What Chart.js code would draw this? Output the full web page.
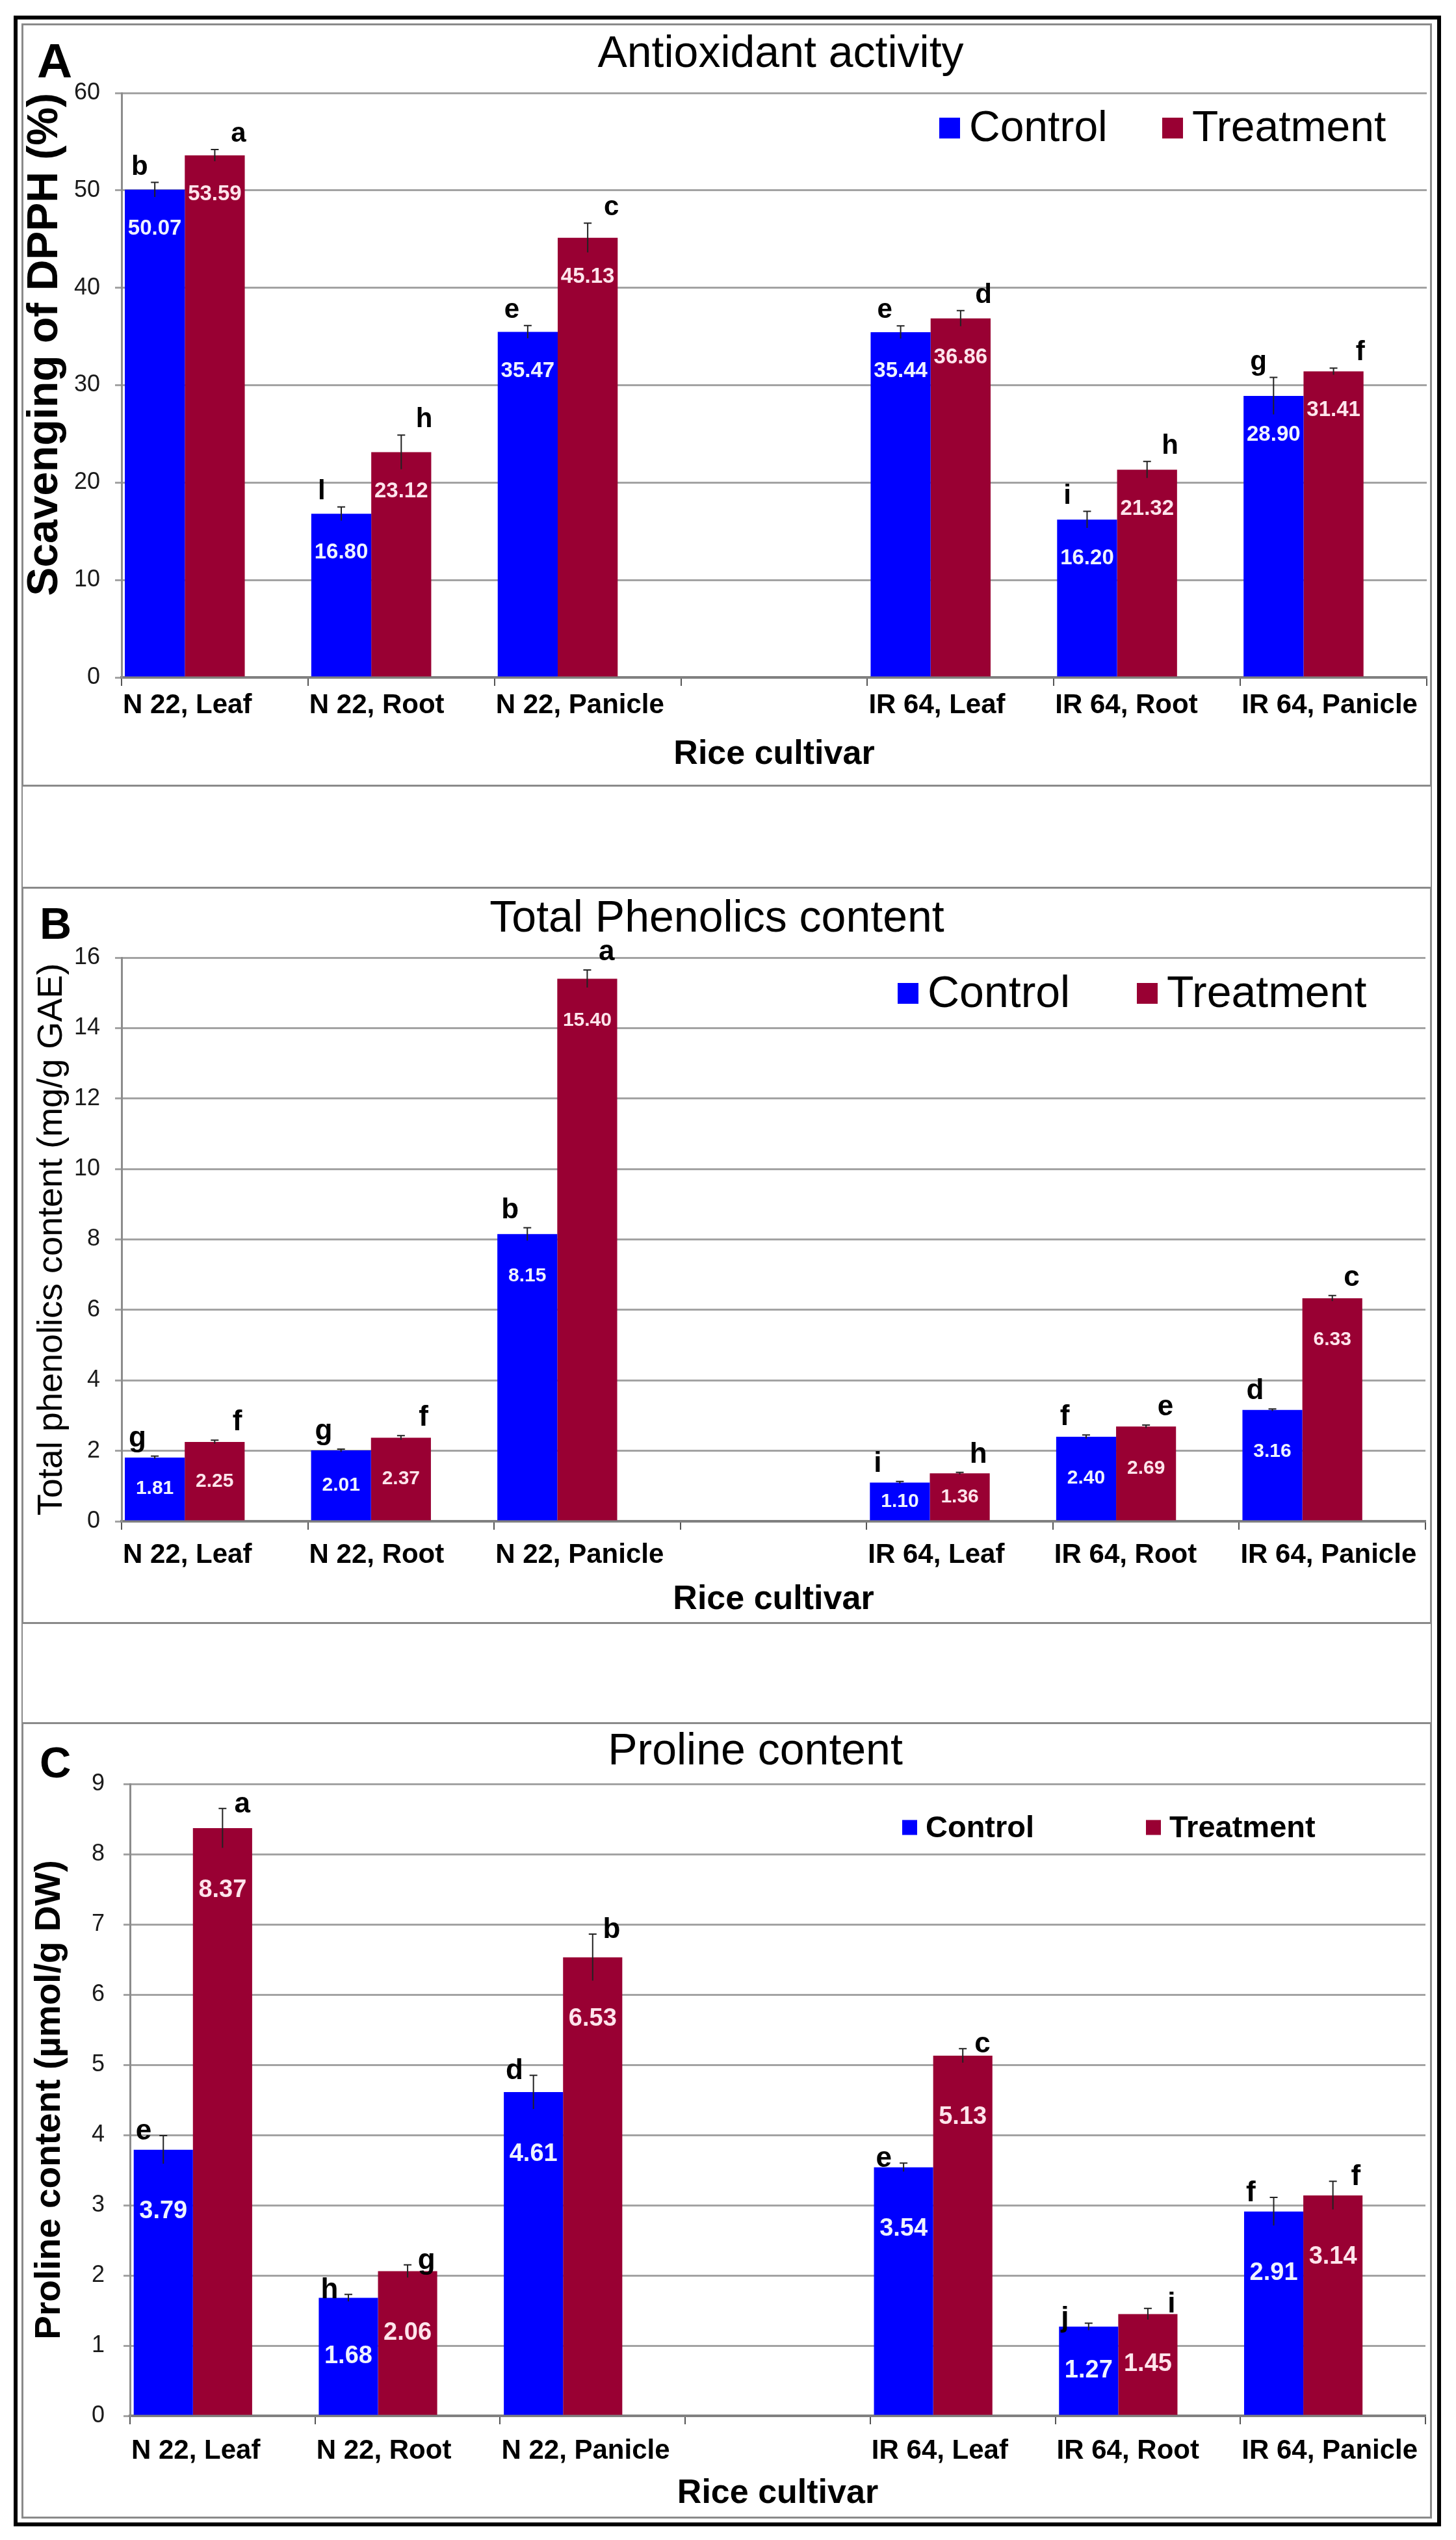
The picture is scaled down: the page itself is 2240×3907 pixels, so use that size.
<!DOCTYPE html>
<html>
<head>
<meta charset="utf-8">
<title>Antioxidant activity, phenolics and proline in rice</title>
<script src="https://cdn.jsdelivr.net/npm/chart.js@4.4.1/dist/chart.umd.min.js"></script>
<style>
  html, body { margin: 0; padding: 0; background: #fff; }
  body { width: 2240px; height: 3907px; position: relative; overflow: hidden; }
  #frame { position: absolute; left: 21px; top: 24px; width: 2196px; height: 3862px; border: 6px solid #000; box-sizing: border-box; }
  #inner { position: absolute; left: 33px; top: 36px; width: 2170px; height: 3838px; border: 2px solid #8a8a8a; box-sizing: border-box; }
  .panel { position: absolute; left: 33px; width: 2170px; border: 3px solid #8a8a8a; box-sizing: border-box; background: #fff; }
  .panel canvas { display: block; }
</style>
</head>
<body>
<div id="frame"></div>
<div id="inner"></div>
<div class="panel" style="top:36px;height:1174px"><canvas id="chartA" width="2164" height="1168"></canvas></div>
<div class="panel" style="top:1364px;height:1134px"><canvas id="chartB" width="2164" height="1128"></canvas></div>
<div class="panel" style="top:2649px;height:1225px"><canvas id="chartC" width="2164" height="1219"></canvas></div>

<script>
// categories (the empty slot is the gap between the two cultivars)
const categories = ['N 22, Leaf', 'N 22, Root', 'N 22, Panicle', '', 'IR 64, Leaf', 'IR 64, Root', 'IR 64, Panicle'];
const seriesNames = ['Control', 'Treatment'];

// A - Antioxidant activity, scavenging of DPPH (%)
const dpphControl = [50.07, 16.80, 35.47, null, 35.44, 16.20, 28.90];
const dpphTreatment = [53.59, 23.12, 45.13, null, 36.86, 21.32, 31.41];
const dpphErrControl = [0.75, 0.7, 0.65, null, 0.65, 0.85, 1.9];
const dpphErrTreatment = [0.6, 1.75, 1.5, null, 0.8, 0.85, 0.35];
const dpphLetControl = ['b', 'l', 'e', '', 'e', 'i', 'g'];
const dpphLetTreatment = ['a', 'h', 'c', '', 'd', 'h', 'f'];
const dpphTicks = [0, 10, 20, 30, 40, 50, 60];

// B - Total phenolics content (mg/g GAE)
const phenControl = [1.81, 2.01, 8.15, null, 1.10, 2.40, 3.16];
const phenTreatment = [2.25, 2.37, 15.40, null, 1.36, 2.69, 6.33];
const phenErrControl = [0.04, 0.04, 0.18, null, 0.03, 0.05, 0.03];
const phenErrTreatment = [0.05, 0.06, 0.25, null, 0.03, 0.04, 0.08];
const phenLetControl = ['g', 'g', 'b', '', 'i', 'f', 'd'];
const phenLetTreatment = ['f', 'f', 'a', '', 'h', 'e', 'c'];
const phenTicks = [0, 2, 4, 6, 8, 10, 12, 14, 16];

// C - Proline content (umol/g DW)
const proControl = [3.79, 1.68, 4.61, null, 3.54, 1.27, 2.91];
const proTreatment = [8.37, 2.06, 6.53, null, 5.13, 1.45, 3.14];
const proErrControl = [0.2, 0.05, 0.24, null, 0.06, 0.05, 0.2];
const proErrTreatment = [0.28, 0.09, 0.33, null, 0.1, 0.08, 0.2];
const proLetControl = ['e', 'h', 'd', '', 'e', 'j', 'f'];
const proLetTreatment = ['a', 'g', 'b', '', 'c', 'i', 'f'];
const proTicks = [0, 1, 2, 3, 4, 5, 6, 7, 8, 9];

const BLUE = '#0000ff';
const RED = '#990033';
const FAMILY = "'Liberation Sans', Arial, Helvetica, sans-serif";
const font = (size, weight) => (weight || 'normal') + ' ' + size + 'px ' + FAMILY;

Chart.defaults.font.family = FAMILY;

// error bars, significance letters, values inside bars, title, panel letter and legend
const decor = {
  id: 'decor',
  afterDatasetsDraw(chart, args, o) {
    const ctx = chart.ctx;
    const y = chart.scales.y;
    ctx.save();
    [0, 1].forEach(d => {
      const vals = chart.data.datasets[d].data;
      chart.getDatasetMeta(d).data.forEach((bar, i) => {
        const v = vals[i];
        if (v == null) return;
        const e = o.errors[d][i];
        const top = y.getPixelForValue(v + e);
        const bot = y.getPixelForValue(v - e);
        ctx.strokeStyle = '#222';
        ctx.lineWidth = 2;
        ctx.beginPath();
        ctx.moveTo(bar.x, bot);
        ctx.lineTo(bar.x, top);
        ctx.moveTo(bar.x - 6, top);
        ctx.lineTo(bar.x + 6, top);
        ctx.stroke();

        ctx.fillStyle = '#000';
        ctx.font = o.letterFont;
        ctx.textBaseline = 'alphabetic';
        if (d === 0) {
          ctx.textAlign = 'left';
          ctx.fillText(o.letters[0][i], bar.x - bar.width / 2 + o.dx[0], top - o.gap);
        } else {
          ctx.textAlign = 'right';
          ctx.fillText(o.letters[1][i], bar.x + bar.width / 2 + o.dx[1], top - o.gap);
        }

        const h = bar.base - bar.y;
        ctx.fillStyle = d === 0 ? '#eef2ff' : '#ffe4ec';
        ctx.font = o.valueFont;
        ctx.textAlign = 'center';
        ctx.textBaseline = 'middle';
        ctx.fillText(v.toFixed(2), bar.x, bar.y + Math.min(o.valueOffset, h / 2));
      });
    });
    ctx.restore();
  },
  afterDraw(chart, args, o) {
    const ctx = chart.ctx;
    ctx.save();
    ctx.fillStyle = '#000';
    ctx.textBaseline = 'alphabetic';
    ctx.textAlign = 'center';
    ctx.font = o.title.font;
    ctx.fillText(o.title.text, o.title.x, o.title.y);
    ctx.textAlign = 'left';
    ctx.font = o.mark.font;
    ctx.fillText(o.mark.text, o.mark.x, o.mark.y);

    const L = o.legend;
    ctx.font = L.font;
    ctx.textBaseline = 'middle';
    chart.data.datasets.slice(0, 2).forEach((ds, k) => {
      ctx.fillStyle = ds.backgroundColor;
      ctx.fillRect(L.x[k], L.y - L.box / 2, L.box, L.box);
      ctx.fillStyle = '#000';
      ctx.fillText(ds.label, L.x[k] + L.box + L.gap, L.y + 2);
    });
    ctx.restore();
  }
};

function makePanel(id, p) {
  const canvas = document.getElementById(id);
  const catW = (canvas.width - p.area.left - p.area.right) / categories.length;
  return new Chart(canvas, {
    type: 'bar',
    data: {
      labels: categories,
      datasets: [
        { label: seriesNames[0], data: p.control, backgroundColor: BLUE },
        { label: seriesNames[1], data: p.treatment, backgroundColor: RED },
        { label: '', data: [] }   // empty slot, pushes each pair left of centre
      ]
    },
    options: {
      responsive: false,
      animation: false,
      devicePixelRatio: 1,
      layout: { padding: { top: p.area.top, right: p.area.right, left: 0, bottom: 0 } },
      datasets: { bar: { categoryPercentage: p.catPct, barPercentage: 1, borderWidth: 0 } },
      plugins: {
        legend: { display: false },
        tooltip: { enabled: false },
        title: { display: false },
        decor: p.decor
      },
      scales: {
        x: {
          grid: { drawOnChartArea: false, drawTicks: true, tickLength: 13, color: '#555', lineWidth: 2, offset: true },
          border: { color: '#808080', width: 4 },
          ticks: {
            color: '#000', font: { size: 42, weight: 'bold' }, padding: p.xTickPad,
            align: 'start', labelOffset: -catW / 2 + 2, maxRotation: 0, minRotation: 0, autoSkip: false
          },
          title: {
            display: true, text: 'Rice cultivar', color: '#000',
            font: { size: 52, weight: 'bold', lineHeight: 1 }, padding: { top: 0, bottom: p.xTitlePad }
          },
          afterFit(s) { s.height = p.xHeight; s.paddingLeft = 0; s.paddingRight = 0; }
        },
        y: {
          min: 0,
          max: p.ticks[p.ticks.length - 1],
          afterBuildTicks(s) { s.ticks = p.ticks.map(v => ({ value: v })); },
          grid: { color: '#a3a3a3', lineWidth: 3, tickLength: 10 },
          border: { color: '#8c8c8c', width: 3 },
          ticks: { color: '#1a1a1a', font: { size: 36 }, padding: p.yTickPad },
          title: {
            display: true, text: p.yTitle, color: '#000', align: p.yAlign,
            font: { size: p.yTitleSize, weight: p.yTitleWeight, lineHeight: 1 }, padding: { top: p.yTitlePad, bottom: 0 }
          },
          afterFit(s) { s.width = p.area.left; }
        }
      }
    },
    plugins: [decor]
  });
}

makePanel('chartA', {
  control: dpphControl, treatment: dpphTreatment, ticks: dpphTicks,
  area: { left: 151, right: 5, top: 104 }, xHeight: 165, catPct: 0.965,
  xTickPad: 5, xTitlePad: 20, yTickPad: 23,
  yTitle: 'Scavenging of DPPH (%)', yTitleSize: 66, yTitleWeight: 'bold', yTitlePad: 1, yAlign: 'end',
  decor: {
    errors: [dpphErrControl, dpphErrTreatment], letters: [dpphLetControl, dpphLetTreatment],
    letterFont: font(42, 'bold'), valueFont: font(33, 'bold'), dx: [10, 2], gap: 12, valueOffset: 60,
    title: { text: 'Antioxidant activity', x: 1165, y: 64, font: font(68) },
    mark: { text: 'A', x: 21, y: 80, font: font(75, 'bold') },
    legend: { x: [1409, 1752], y: 158, box: 32, gap: 14, font: font(66) }
  }
});

makePanel('chartB', {
  control: phenControl, treatment: phenTreatment, ticks: phenTicks,
  area: { left: 151, right: 7, top: 106 }, xHeight: 155, catPct: 0.965,
  xTickPad: 14, xTitlePad: 8, yTickPad: 23,
  yTitle: 'Total phenolics content (mg/g GAE)', yTitleSize: 54, yTitleWeight: 'normal', yTitlePad: 17, yAlign: 'center',
  decor: {
    errors: [phenErrControl, phenErrTreatment], letters: [phenLetControl, phenLetTreatment],
    letterFont: font(44, 'bold'), valueFont: font(30, 'bold'), dx: [6, -4], gap: 15, valueOffset: 64,
    title: { text: 'Total Phenolics content', x: 1067, y: 66, font: font(68) },
    mark: { text: 'B', x: 25, y: 77, font: font(68, 'bold') },
    legend: { x: [1345, 1713], y: 161, box: 32, gap: 14, font: font(68) }
  }
});

makePanel('chartC', {
  control: proControl, treatment: proTreatment, ticks: proTicks,
  area: { left: 164, right: 7, top: 92 }, xHeight: 155, catPct: 0.96,
  xTickPad: 16, xTitlePad: 9, yTickPad: 29,
  yTitle: 'Proline content (\u00b5mol/g DW)', yTitleSize: 55, yTitleWeight: 'bold', yTitlePad: 13, yAlign: 'center',
  decor: {
    errors: [proErrControl, proErrTreatment], letters: [proLetControl, proLetTreatment],
    letterFont: font(44, 'bold'), valueFont: font(38, 'bold'), dx: [3, -3], gap: -6, valueOffset: 95,
    title: { text: 'Proline content', x: 1126, y: 62, font: font(68) },
    mark: { text: 'C', x: 25, y: 82, font: font(67, 'bold') },
    legend: { x: [1352, 1727], y: 159, box: 23, gap: 13, font: font(47, 'bold') }
  }
});
</script>
</body>
</html>
